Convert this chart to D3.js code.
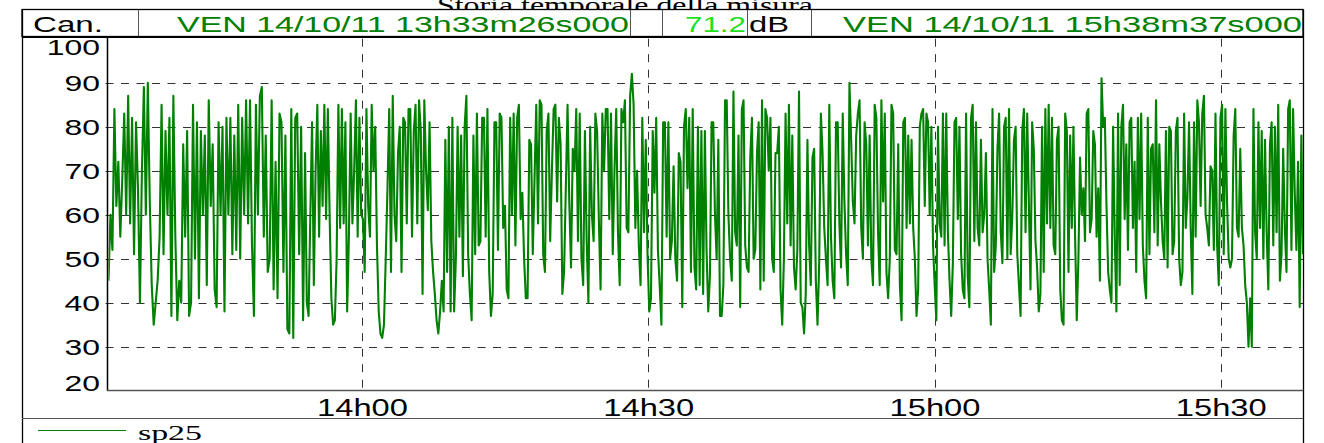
<!DOCTYPE html>
<html><head><meta charset="utf-8">
<script src="https://cdn.jsdelivr.net/npm/d3@7"></script>
<style>body{margin:0;background:#fff;} svg{display:block}</style>
</head><body>
<svg id="c" width="1324" height="443"></svg>
<script>
const title = "Storia temporale della misura";
const channelLabel = "Can.";
const startLabel = "VEN 14/10/11 13h33m26s000";
const endLabel = "VEN 14/10/11 15h38m37s000";
const levelValue = "71.2";
const levelUnit = "dB";
const seriesName = "sp25";
const yTicks = [20, 30, 40, 50, 60, 70, 80, 90, 100];
const yGrid = [30, 40, 50, 60, 70, 80, 90];
const xTickLabels = ["14h00", "14h30", "15h00", "15h30"];
const xTickTimes = ["14:00:00", "14:30:00", "15:00:00", "15:30:00"];
const segmentBounds = ["13:33:26", "13:54:02", "14:14:59", "14:35:56", "14:56:54", "15:17:51", "15:38:37"];

const seg1 = [45, 60, 52, 84, 62, 72, 55, 68, 83, 60, 87, 58, 82, 51, 81, 66, 40, 70, 89, 60, 90, 63, 44, 35, 40, 45, 55, 85, 51, 79, 60, 82, 37, 87, 55, 36, 45, 40, 76, 55, 79, 37, 40, 85, 50, 81, 41, 79, 60, 78, 44, 86, 62, 76, 43, 39, 81, 60, 80, 38, 82, 60, 82, 51, 78, 52, 85, 50, 82, 60, 86, 58, 86, 53, 37, 85, 60, 87, 89, 55, 78, 47, 50, 86, 43, 72, 41, 83, 81, 47, 78, 34, 33, 84, 32, 82, 83, 51, 80, 36];
const seg2 = [74, 40, 37, 60, 81, 44, 70, 85, 55, 79, 62, 85, 59, 84, 60, 41, 35, 36, 50, 85, 57, 84, 58, 81, 38, 55, 83, 58, 70, 86, 55, 82, 60, 59, 47, 84, 62, 55, 85, 70, 80, 53, 38, 33, 32, 35, 50, 66, 84, 47, 87, 60, 54, 74, 80, 47, 82, 81, 58, 84, 84, 55, 79, 85, 58, 86, 79, 42, 86, 70, 61, 81, 54, 47, 42, 36, 33, 38, 45, 38, 77, 47, 80, 38, 82, 38, 50, 80, 55, 78, 46, 80, 87, 51, 42, 36, 78, 51, 83, 53, 54, 82, 82, 55, 84, 47, 37, 42, 81, 81, 52, 83, 82, 57];
const seg3 = [62, 43, 41, 82, 60, 83, 53, 82, 85, 59, 65, 50, 41, 41, 77, 76, 51, 68, 85, 58, 86, 85, 51, 47, 79, 83, 54, 70, 84, 85, 63, 82, 76, 42, 47, 66, 85, 63, 48, 75, 70, 84, 54, 83, 50, 44, 79, 54, 40, 80, 60, 54, 83, 79, 59, 43, 83, 70, 84, 84, 59, 83, 51, 70, 84, 56, 44, 84, 81, 86, 57, 56, 87, 92, 85, 57, 70, 53, 44, 82, 56, 77, 51, 38, 41, 79, 65, 82, 52, 44, 35, 81, 81, 55, 81, 50, 54, 71, 50, 45, 74, 72, 39, 80, 84, 66, 82, 47, 84, 48, 43, 80, 44, 79, 42];
const seg4 = [79, 52, 38, 46, 81, 81, 60, 50, 77, 37, 37, 44, 86, 86, 60, 50, 45, 88, 56, 53, 78, 39, 84, 86, 53, 48, 47, 73, 82, 50, 52, 74, 81, 43, 86, 45, 84, 82, 70, 82, 50, 47, 74, 74, 80, 43, 35, 50, 83, 58, 85, 53, 78, 48, 43, 52, 88, 40, 39, 33, 42, 77, 53, 44, 73, 75, 45, 35, 49, 83, 74, 57, 50, 44, 85, 55, 45, 41, 81, 81, 58, 48, 83, 63, 51, 44, 90, 77, 63, 58, 78, 83, 86, 57, 50, 81, 76, 53, 78, 50, 44, 85, 82, 56, 44, 86, 63, 83, 47, 41, 50, 85, 83, 52, 51, 76, 44, 36, 81];
const seg5 = [82, 57, 78, 58, 77, 57, 50, 37, 43, 80, 83, 84, 62, 83, 81, 60, 80, 53, 44, 36, 80, 58, 55, 83, 53, 83, 56, 45, 37, 49, 81, 82, 59, 80, 51, 43, 41, 83, 46, 39, 82, 85, 54, 81, 57, 53, 77, 56, 60, 74, 50, 43, 35, 84, 47, 53, 75, 83, 56, 49, 80, 82, 50, 84, 51, 60, 77, 80, 51, 44, 37, 79, 84, 56, 83, 63, 43, 81, 75, 54, 48, 38, 42, 80, 47, 84, 58, 85, 57, 82, 53, 51, 77, 80, 43, 36, 35, 83, 79, 47, 78, 57, 80, 55, 36, 50, 73, 60, 66, 54, 83, 84, 56, 59, 79, 76, 55, 66, 45, 91, 80];
const seg6 = [82, 62, 47, 43, 40, 80, 55, 38, 83, 44, 80, 85, 59, 76, 52, 81, 82, 57, 72, 47, 82, 59, 83, 53, 45, 41, 82, 51, 75, 76, 56, 86, 53, 76, 63, 54, 50, 79, 48, 80, 79, 51, 54, 79, 82, 50, 44, 47, 83, 57, 64, 81, 57, 42, 81, 55, 86, 81, 62, 83, 87, 60, 57, 53, 71, 70, 52, 83, 53, 44, 82, 85, 51, 84, 63, 50, 48, 50, 78, 84, 57, 55, 75, 57, 53, 44, 40, 30, 41, 30, 84, 56, 50, 81, 57, 79, 50, 77, 56, 43, 76, 81, 53, 80, 56, 85, 45, 51, 75, 57, 47, 84, 86, 52, 84, 65, 52, 72, 39, 78, 51];
const segments = [seg1, seg2, seg3, seg4, seg5, seg6];

const parseT = d3.timeParse("%H:%M:%S");
const bounds = segmentBounds.map(parseT);
const data = [];
segments.forEach((seg, k) => {
  const t0 = +bounds[k], t1 = +bounds[k + 1];
  const last = k === segments.length - 1;
  const n = last ? seg.length - 1 : seg.length;
  seg.forEach((v, i) => data.push({ t: new Date(t0 + (t1 - t0) * i / n), v }));
});

const svg = d3.select("#c");
const L = 108.5, R = 1303, T = 38.7, B = 390.7;
const x = d3.scaleTime().domain([bounds[0], bounds[bounds.length - 1]]).range([L, R]);
const y = d3.scaleLinear().domain([20, 100]).range([B, T]);

const SANS = "'Liberation Sans', Arial, sans-serif";
const SERIF = "'Liberation Serif', 'Times New Roman', serif";

function stext(parent, str, px, py, o) {
  const t = parent.append("text").attr("x", 0).attr("y", py)
    .style("font-family", o.family).style("font-size", o.size + "px")
    .attr("fill", o.fill || "#000").text(str);
  const w = o.width || t.node().getComputedTextLength() * (o.sx || 1);
  let x0 = px;
  if (o.anchor === "end") x0 = px - w; else if (o.anchor === "middle") x0 = px - w / 2;
  t.attr("x", x0).attr("textLength", w).attr("lengthAdjust", "spacingAndGlyphs");
  return t;
}

// title (partly hidden by header box)
stext(svg, title, 625, 13, { family: SERIF, size: 23, width: 376, anchor: "middle" });

// header box
const hdr = svg.append("g");
hdr.append("rect").attr("x", 22).attr("y", 9.5).attr("width", 1281).attr("height", 27)
  .attr("fill", "#fff").attr("stroke", "#000").attr("stroke-width", 1.3);
[138, 630, 662, 747, 811].forEach(xx => hdr.append("line").attr("x1", xx + 0.5).attr("x2", xx + 0.5)
  .attr("y1", 10).attr("y2", 36).attr("stroke", "#555").attr("stroke-width", 1));
stext(hdr, channelLabel, 33, 31.5, { family: SANS, size: 22.5, width: 70 });
stext(hdr, startLabel, 177, 31.5, { family: SANS, size: 22.5, width: 452, fill: "#008000" });
stext(hdr, levelValue, 685, 31.5, { family: SANS, size: 22.5, width: 61, fill: "#1fe01f" });
stext(hdr, levelUnit, 749, 31.5, { family: SANS, size: 22.5, width: 40 });
stext(hdr, endLabel, 843, 31.5, { family: SANS, size: 22.5, width: 459, fill: "#008000" });

// frame lines
const fr = svg.append("g").attr("stroke", "#000").attr("fill", "none");
fr.append("line").attr("x1", 22).attr("x2", 1303).attr("y1", 37.5).attr("y2", 37.5).attr("stroke-width", 1.2);
fr.append("line").attr("x1", 22.5).attr("x2", 22.5).attr("y1", 9.5).attr("y2", 443).attr("stroke-width", 1.3);
fr.append("line").attr("x1", 1303.5).attr("x2", 1303.5).attr("y1", 9.5).attr("y2", 443).attr("stroke-width", 1.3);
fr.append("line").attr("x1", 22).attr("x2", 1303).attr("y1", 418.5).attr("y2", 418.5).attr("stroke", "#555").attr("stroke-width", 1.2);

// grid
const grid = svg.append("g").attr("stroke", "#333").attr("stroke-width", 1).attr("stroke-dasharray", "8,7.5");
grid.selectAll("line.h").data(yGrid).join("line").attr("class", "h")
  .attr("x1", L - 3).attr("x2", R).attr("y1", d => Math.round(y(d)) + 0.5).attr("y2", d => Math.round(y(d)) + 0.5);
grid.selectAll("line.v").data(xTickTimes.map(parseT)).join("line").attr("class", "v")
  .attr("x1", d => Math.round(x(d)) + 0.5).attr("x2", d => Math.round(x(d)) + 0.5)
  .attr("y1", T).attr("y2", B + 4);

// series
svg.append("clipPath").attr("id", "clip").append("rect").attr("x", L).attr("y", T).attr("width", R - L).attr("height", B - T);
svg.append("path").datum(data).attr("clip-path", "url(#clip)")
  .attr("fill", "none").attr("stroke", "#008000").attr("stroke-width", 2.1).attr("stroke-linejoin", "round")
  .attr("d", d3.line().x(d => x(d.t)).y(d => y(d.v)));

// axes lines
svg.append("line").attr("x1", 107.5).attr("x2", 107.5).attr("y1", 38).attr("y2", 391).attr("stroke", "#000").attr("stroke-width", 1.5);
svg.append("line").attr("x1", 107).attr("x2", 1303).attr("y1", 390.5).attr("y2", 390.5).attr("stroke", "#555").attr("stroke-width", 1.3);

// y labels
const yl = svg.append("g");
yTicks.forEach(v => {
  let cy = y(v);
  cy = Math.max(T + 8, Math.min(B - 8, cy));
  stext(yl, String(v), 100, cy + 8, { family: SANS, size: 22, sx: 1.45, anchor: "end" });
});

// x labels
const xl = svg.append("g");
xTickTimes.forEach((s, i) => {
  stext(xl, xTickLabels[i], x(parseT(s)) + 0.5, 416, { family: SANS, size: 23, sx: 1.42, anchor: "middle" });
});

// legend
svg.append("line").attr("x1", 38).attr("x2", 126).attr("y1", 430.5).attr("y2", 430.5).attr("stroke", "#008000").attr("stroke-width", 1);
stext(svg, seriesName, 138, 440, { family: SERIF, size: 22, width: 64 });
</script>
</body></html>
